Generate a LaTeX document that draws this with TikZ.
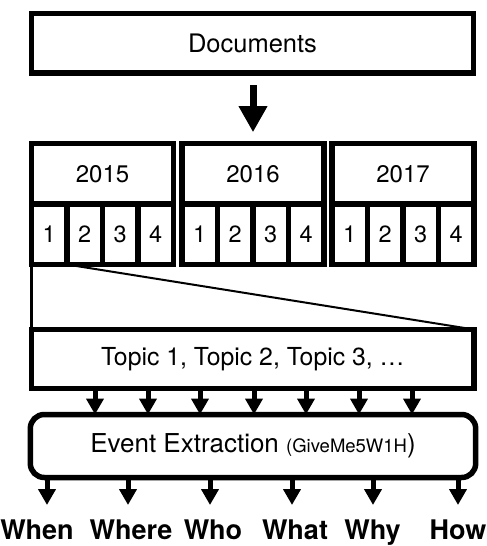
\documentclass[tikz,border=0pt]{standalone}
\usepackage{fontspec}
\setmainfont{TeX Gyre Heros}
\usetikzlibrary{arrows.meta}
\begin{document}
\begin{tikzpicture}[x=1pt,y=-1pt,
  box/.style={draw, line width=5.5pt, inner sep=0pt, outer sep=0pt, align=center},
  arr/.style={line width=5pt, -{Triangle[width=17pt,length=16pt]}},
  bigarr/.style={line width=7pt, -{Triangle[width=27pt,length=26pt]}},
  lbl/.style={font=\fontsize{27}{30}\selectfont\bfseries, inner sep=0pt, anchor=base}
]
\useasboundingbox (0,0) rectangle (487,546);
% Documents
\node[box, minimum width=442pt, minimum height=59.5pt, font=\fontsize{25.5}{30}\selectfont] (docs) at (252.5,43.25) {Documents};
% years
\foreach \yr/\xa/\nm in {2015/31.5/a, 2016/182/b, 2017/332/c} {
  \node[box, minimum width=142pt, minimum height=61pt, font=\fontsize{24}{28}\selectfont] (h\nm) at (\xa+71,174) {\yr};
  \foreach \q in {1,...,4} {
    \node[box, minimum width=35.5pt, minimum height=60.5pt, font=\fontsize{23.5}{28}\selectfont] (\nm\q) at (\xa+35.5*\q-17.75,234.25) {\q};
  }
}
\draw[bigarr, shorten <=12pt, shorten >=11.3pt] (docs.south -| hb.north) -- (hb.north);
% Topics
\node[box, minimum width=442.5pt, minimum height=59pt, font=\fontsize{24.8}{28}\selectfont] (topic) at (252.75,359) {Topic 1, Topic 2, Topic 3, …};
\draw[line width=3pt] (a1.south west) -- (topic.north west);
\draw[line width=2pt] (a1.south east) -- (topic.north east);
% Event extraction
\node[box, rounded corners=14pt, minimum width=445.4pt, minimum height=63pt, font=\fontsize{26}{30}\selectfont] (event) at (253,446) {Event Extraction {\fontsize{18.5}{20}\selectfont (GiveMe5W1H})};
\foreach \x [count=\i] in {95,148,200,254,306,359,412} {
  \coordinate (t\i) at (\x,400);
  \draw[arr] (topic.south -| t\i) -- (event.north -| t\i);
}
% outputs
\foreach \x/\lx/\txt [count=\i] in {47/37/When, 128/131/Where, 210/213/Who, 292/295/What, 373/372.5/Why, 458/458/How} {
  \coordinate (e\i) at (\x,505);
  \draw[arr] (event.south -| e\i) -- (e\i);
  \node[lbl] (l\i) at (\lx,539.5) {\txt};
}
\end{tikzpicture}
\end{document}
